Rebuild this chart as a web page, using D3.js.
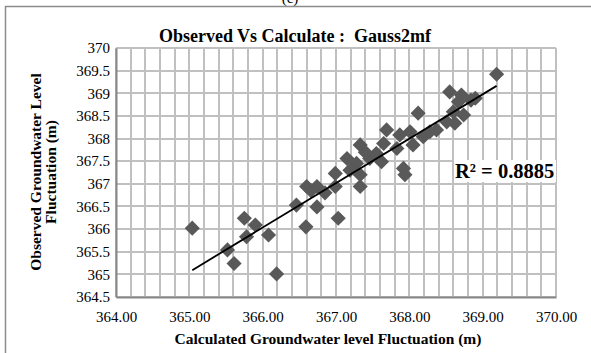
<!DOCTYPE html>
<html>
<head>
<meta charset="utf-8">
<script src="https://cdn.jsdelivr.net/npm/d3@7"></script>
<style>
  body { margin: 0; background: #fff; }
  svg { display: block; }
  text { white-space: pre; }
</style>
</head>
<body>
<div id="chart"></div>
<script>
// Data
const calculated = [365.04, 366.19, 365.52, 365.61, 365.75, 365.78, 365.90, 366.08, 366.59, 366.46,
  366.74, 366.60, 366.74, 367.03, 366.99, 366.99, 367.15, 367.33, 367.33, 367.33,
  367.46, 367.28, 367.62, 367.69, 367.65, 367.87, 367.92, 367.94, 368.05, 368.12,
  368.19, 368.37, 368.55, 368.60, 368.62, 368.71, 368.74, 368.90, 369.19, 368.01,
  367.83, 367.55, 367.19, 366.66, 366.85, 368.28, 368.51, 368.67, 368.84, 367.40];
const observed = [366.02, 365.01, 365.54, 365.24, 366.24, 365.83, 366.09, 365.87, 366.05, 366.53,
  366.49, 366.94, 366.94, 366.24, 366.94, 367.23, 367.56, 366.94, 367.20, 367.86,
  367.56, 367.45, 367.49, 368.19, 367.89, 368.08, 367.34, 367.20, 367.86, 368.56,
  368.04, 368.19, 369.03, 368.59, 368.34, 368.96, 368.52, 368.89, 369.42, 368.15,
  367.78, 367.67, 367.30, 366.85, 366.80, 368.15, 368.37, 368.81, 368.85, 367.70];
const xTicks = [364, 365, 366, 367, 368, 369, 370];
const yTicks = [364.5, 365, 365.5, 366, 366.5, 367, 367.5, 368, 368.5, 369, 369.5, 370];
const xMinor = d3.range(0, 31).map(i => 364 + i * 0.2);
const chartTitle = "Observed Vs Calculate :  Gauss2mf";
const xTitle = "Calculated Groundwater level Fluctuation (m)";
const yTitle = ["Observed Groundwater Level", "Fluctuation (m)"];
const r2Label = "R² = 0.8885";

const W = 591, H = 353;
const plot = { left: 116, top: 48, right: 556, bottom: 297 };
const serif = "'Liberation Serif', 'Times New Roman', serif";

const svg = d3.select("#chart").append("svg")
  .attr("width", W).attr("height", H)
  .attr("font-family", serif);

// caption of the page above, cut by the crop
svg.append("text").attr("x", 290).attr("y", 3).attr("text-anchor", "middle")
  .attr("font-size", 15).text("(c)");

// chart area border
svg.append("rect").attr("x", 5.5).attr("y", 6.5).attr("width", 700).attr("height", 500)
  .attr("fill", "none").attr("stroke", "#8c8c8c").attr("stroke-width", 1.5);

const x = d3.scaleLinear().domain([364, 370]).range([plot.left, plot.right]);
const y = d3.scaleLinear().domain([364.5, 370]).range([plot.bottom, plot.top]);

// grid: vertical every 0.2, horizontal every 0.5
const grid = svg.append("g").attr("stroke", "#c0c0c0").attr("stroke-width", 2);
grid.selectAll("line.v").data(xMinor).join("line").attr("class", "v")
  .attr("x1", d => Math.round(x(d))).attr("x2", d => Math.round(x(d)))
  .attr("y1", plot.top).attr("y2", plot.bottom);
grid.selectAll("line.h").data(yTicks).join("line").attr("class", "h")
  .attr("x1", plot.left).attr("x2", plot.right)
  .attr("y1", d => Math.round(y(d))).attr("y2", d => Math.round(y(d)));

// axes
const xAxis = svg.append("g").attr("transform", `translate(0,${plot.bottom})`)
  .call(d3.axisBottom(x).tickValues(xTicks).tickSize(0).tickPadding(14).tickFormat(d3.format(".2f")));
const yAxis = svg.append("g").attr("transform", `translate(${plot.left},0)`)
  .call(d3.axisLeft(y).tickValues(yTicks).tickSize(0).tickPadding(6).tickFormat(d => String(d)));
[xAxis, yAxis].forEach(a => {
  a.select(".domain").attr("stroke", "#878787").attr("stroke-width", 2);
  a.selectAll("text").attr("font-family", serif).attr("font-size", 15).attr("fill", "#000");
});

// R² label with white box
const r2 = svg.append("g");
r2.append("rect").attr("x", 454).attr("y", 160).attr("width", 102).attr("height", 22).attr("fill", "#fff");
r2.append("text").attr("x", 455).attr("y", 178).attr("font-size", 20.5).attr("font-weight", "bold")
  .text(r2Label);

// markers
const pts = calculated.map((c, i) => [c, observed[i]]);
svg.append("g").selectAll("path").data(pts).join("path")
  .attr("d", d3.symbol(d3.symbolSquare, 115))
  .attr("transform", d => `translate(${x(d[0])},${y(d[1])}) rotate(45)`)
  .attr("fill", "#595959");

// linear trendline (least squares)
const mx = d3.mean(calculated), my = d3.mean(observed);
const slope = d3.sum(pts, d => (d[0] - mx) * (d[1] - my)) / d3.sum(pts, d => (d[0] - mx) ** 2);
const icpt = my - slope * mx;
const [x0, x1] = d3.extent(calculated);
svg.append("line")
  .attr("x1", x(x0)).attr("y1", y(icpt + slope * x0))
  .attr("x2", x(x1)).attr("y2", y(icpt + slope * x1))
  .attr("stroke", "#000").attr("stroke-width", 1.8);

// titles
svg.append("text").attr("x", 295).attr("y", 42).attr("text-anchor", "middle")
  .attr("font-size", 18).attr("font-weight", "bold").text(chartTitle);
svg.append("text").attr("x", 328).attr("y", 344).attr("text-anchor", "middle")
  .attr("font-size", 15.5).attr("font-weight", "bold").text(xTitle);
yTitle.forEach((t, i) => {
  svg.append("text").attr("transform", `translate(${41 + i * 15},172) rotate(-90)`)
    .attr("text-anchor", "middle").attr("font-size", 15.5).attr("font-weight", "bold").text(t);
});
</script>
</body>
</html>
